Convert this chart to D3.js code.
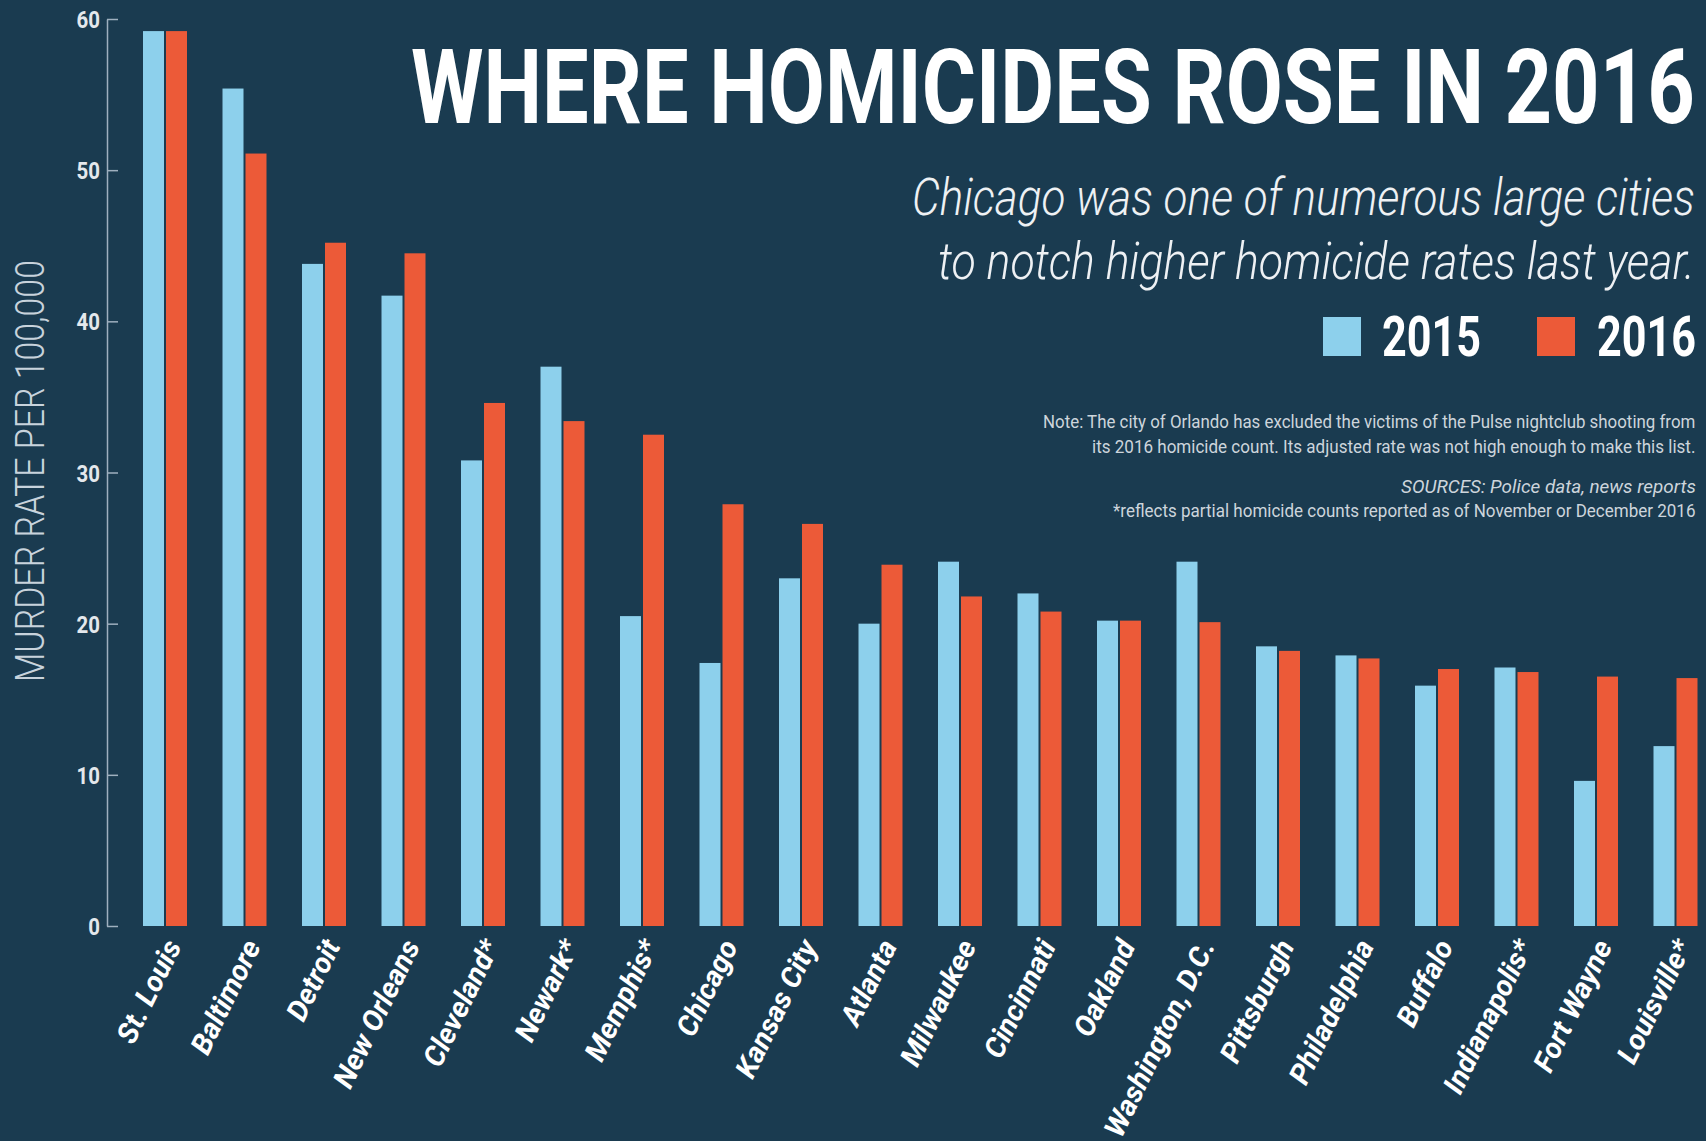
<!DOCTYPE html>
<html>
<head>
<meta charset="utf-8">
<script src="https://cdn.jsdelivr.net/npm/d3@7"></script>
<style>
  html, body { margin: 0; padding: 0; background: #1a3b50; }
  svg { display: block; }
</style>
</head>
<body>
<div id="chart"></div>
<script>
// Data
var cities = ["St. Louis", "Baltimore", "Detroit", "New Orleans", "Cleveland*", "Newark*", "Memphis*",
  "Chicago", "Kansas City", "Atlanta", "Milwaukee", "Cincinnati", "Oakland", "Washington, D.C.",
  "Pittsburgh", "Philadelphia", "Buffalo", "Indianapolis*", "Fort Wayne", "Louisville*"];
var rate2015 = [59.2, 55.4, 43.8, 41.7, 30.8, 37.0, 20.5, 17.4, 23.0, 20.0, 24.1, 22.0, 20.2, 24.1, 18.5, 17.9, 15.9, 17.1, 9.6, 11.9];
var rate2016 = [59.2, 51.1, 45.2, 44.5, 34.6, 33.4, 32.5, 27.9, 26.6, 23.9, 21.8, 20.8, 20.2, 20.1, 18.2, 17.7, 17.0, 16.8, 16.5, 16.4];
var series = ["2015", "2016"];
var seriesColors = ["#8dd0ec", "#ec5a38"];
var yTicks = [0, 10, 20, 30, 40, 50, 60];

var W = 1706, H = 1141;

var svg = d3.select("#chart").append("svg")
  .attr("width", W)
  .attr("height", H);

svg.append("rect").attr("width", W).attr("height", H).attr("fill", "#1a3b50");

// squeeze a text horizontally so it spans exactly w pixels from (x, y)
function fitText(sel, x, y, w) {
  var natural = sel.node().getComputedTextLength();
  sel.attr("x", 0).attr("y", 0)
    .attr("transform", "translate(" + x + "," + y + ") scale(" + (w / natural) + ",1)");
}

// Build rows for the grouped bars
var rows = cities.map(function(c, i) {
  return { city: c, values: [rate2015[i], rate2016[i]] };
});

// Scales
var x0 = d3.scaleBand().domain(cities).range([125.25, 1715.25]).paddingInner(0.4465).paddingOuter(0.2233);
var x1 = d3.scaleBand().domain(series).range([0, x0.bandwidth()]).paddingInner(0.087);
var y = d3.scaleLinear().domain([0, 60]).range([926, 19]);
var color = d3.scaleOrdinal().domain(series).range(seriesColors);

// Bars
var groups = svg.append("g").selectAll("g")
  .data(rows)
  .enter().append("g")
  .attr("transform", function(d) { return "translate(" + x0(d.city) + ",0)"; });

groups.selectAll("rect")
  .data(function(d) { return series.map(function(s, j) { return { key: s, value: d.values[j] }; }); })
  .enter().append("rect")
  .attr("x", function(d) { return x1(d.key); })
  .attr("y", function(d) { return y(d.value); })
  .attr("width", x1.bandwidth())
  .attr("height", function(d) { return y(0) - y(d.value); })
  .attr("fill", function(d) { return color(d.key); });

// Y axis: line with ticks pointing right, labels on the left
var yAxis = svg.append("g")
  .attr("transform", "translate(107,0)")
  .call(d3.axisLeft(y).tickValues(yTicks).tickSizeInner(-11).tickSizeOuter(0).tickPadding(7));

yAxis.select(".domain").attr("stroke", "#9fb0bf").attr("stroke-width", 1.5);
yAxis.selectAll(".tick line").attr("stroke", "#9fb0bf").attr("stroke-width", 1.5);
yAxis.selectAll(".tick text")
  .attr("fill", "#e4e8ec")
  .style("font-family", "Roboto, 'Liberation Sans', sans-serif")
  .style("font-weight", "700")
  .style("font-size", "24px")
  .attr("transform", "scale(0.85,1)")
  .attr("x", -7 / 0.85)
  .attr("dy", "0.36em");

// Y axis title
var yTitle = svg.append("text")
  .attr("fill", "#c8d3dc")
  .style("font-family", "Roboto, sans-serif")
  .style("font-weight", "300")
  .style("font-size", "41px")
  .text("MURDER RATE PER 100,000");
var yTitleLen = yTitle.node().getComputedTextLength();
yTitle.attr("text-anchor", "middle")
  .attr("transform", "translate(44,471) rotate(-90) scale(" + (422 / yTitleLen) + ",1)");

// X axis labels, rotated
var xAxis = svg.append("g")
  .attr("transform", "translate(0,946)")
  .call(d3.axisBottom(x0).tickSize(0).tickPadding(0));
xAxis.select(".domain").remove();
xAxis.selectAll(".tick text")
  .attr("y", 0)
  .attr("dy", 0)
  .attr("fill", "#ffffff")
  .attr("text-anchor", "end")
  .attr("transform", "translate(17,0) rotate(-64)")
  .style("font-family", "Roboto, 'Liberation Sans', sans-serif")
  .style("font-weight", "700")
  .style("font-style", "italic")
  .style("font-size", "29px");

// Title
var title = svg.append("text")
  .attr("fill", "#ffffff")
  .style("font-family", "Roboto, sans-serif")
  .style("font-weight", "700")
  .style("font-size", "103px")
  .text("WHERE HOMICIDES ROSE IN 2016");
fitText(title, 411, 123, 1284);

// Subtitle
var subLines = [
  { t: "Chicago was one of numerous large cities", x: 912, y: 215, w: 783 },
  { t: "to notch higher homicide rates last year.", x: 938, y: 279, w: 757 }
];
subLines.forEach(function(d) {
  var s = svg.append("text")
    .attr("fill", "#eef1f4")
    .style("font-family", "Roboto, sans-serif")
    .style("font-weight", "300")
    .style("font-style", "italic")
    .style("font-size", "52px")
    .text(d.t);
  fitText(s, d.x, d.y, d.w);
});

// Legend
var legendPos = [{ sx: 1323, tx: 1382 }, { sx: 1537, tx: 1597 }];
series.forEach(function(s, i) {
  svg.append("rect")
    .attr("x", legendPos[i].sx)
    .attr("y", 317)
    .attr("width", 38)
    .attr("height", 39)
    .attr("fill", color(s));
  var t = svg.append("text")
    .attr("fill", "#ffffff")
    .style("font-family", "Roboto, sans-serif")
    .style("font-weight", "700")
    .style("font-size", "55px")
    .text(s);
  fitText(t, legendPos[i].tx, 356, 99);
});

// Notes
var notes = [
  { t: "Note: The city of Orlando has excluded the victims of the Pulse nightclub shooting from", x: 1043, y: 428, italic: false },
  { t: "its 2016 homicide count. Its adjusted rate was not high enough to make this list.", x: 1092, y: 453, italic: false },
  { t: "SOURCES: Police data, news reports", x: 1401, y: 493, italic: true },
  { t: "*reflects partial homicide counts reported as of November or December 2016", x: 1113, y: 517, italic: false }
];
notes.forEach(function(d) {
  var n = svg.append("text")
    .attr("fill", "#cdd5dc")
    .style("font-family", "Roboto, sans-serif")
    .style("font-weight", "400")
    .style("font-style", d.italic ? "italic" : "normal")
    .style("font-size", "18px")
    .text(d.t);
  fitText(n, d.x, d.y, 1696 - d.x);
});
</script>
</body>
</html>
